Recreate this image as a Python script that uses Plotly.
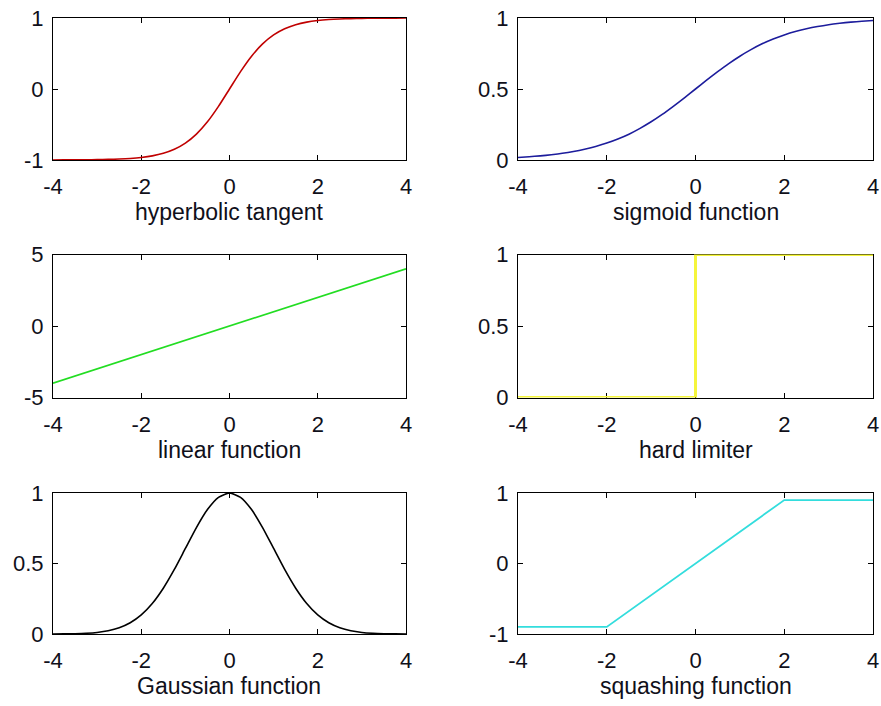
import plotly.graph_objects as go

# ---- data ----
x_grid = [-4, -3.75, -3.5, -3.25, -3, -2.75, -2.5, -2.25, -2, -1.75, -1.5, -1.25, -1, -0.75, -0.5, -0.25,
          0, 0.25, 0.5, 0.75, 1, 1.25, 1.5, 1.75, 2, 2.25, 2.5, 2.75, 3, 3.25, 3.5, 3.75, 4]

tanh_y = [-0.9993, -0.9989, -0.9982, -0.9970, -0.9951, -0.9918, -0.9866, -0.9780, -0.9640, -0.9414,
          -0.9051, -0.8483, -0.7616, -0.6351, -0.4621, -0.2449, 0.0, 0.2449, 0.4621, 0.6351, 0.7616,
          0.8483, 0.9051, 0.9414, 0.9640, 0.9780, 0.9866, 0.9918, 0.9951, 0.9970, 0.9982, 0.9989, 0.9993]

sigmoid_y = [0.018, 0.023, 0.029, 0.037, 0.047, 0.060, 0.076, 0.095, 0.119, 0.148, 0.182, 0.223, 0.269,
             0.321, 0.378, 0.438, 0.500, 0.562, 0.622, 0.679, 0.731, 0.777, 0.818, 0.852, 0.881, 0.905,
             0.924, 0.940, 0.953, 0.963, 0.971, 0.977, 0.982]

gauss_y = [0.0003, 0.0009, 0.0022, 0.0051, 0.0111, 0.0228, 0.0439, 0.0796, 0.1353, 0.2163, 0.3247,
           0.4578, 0.6065, 0.7548, 0.8825, 0.9692, 1.0, 0.9692, 0.8825, 0.7548, 0.6065, 0.4578, 0.3247,
           0.2163, 0.1353, 0.0796, 0.0439, 0.0228, 0.0111, 0.0051, 0.0022, 0.0009, 0.0003]

linear_x = [-4, 4]
linear_y = [-4, 4]

hard_x = [-4, 0, 0, 4]
hard_y = [0, 0, 1, 1]

squash_x = [-4, -2, 2, 4]
squash_y = [-0.9, -0.9, 0.9, 0.9]

titles = ["hyperbolic tangent", "sigmoid function", "linear function",
          "hard limiter", "Gaussian function", "squashing function"]

x_ticks = [-4, -2, 0, 2, 4]
y_ticks_list = [[-1, 0, 1], [0, 0.5, 1], [-5, 0, 5], [0, 0.5, 1], [0, 0.5, 1], [-1, 0, 1]]
y_ranges = [[-1, 1], [0, 1], [-5, 5], [0, 1], [0, 1], [-1, 1]]

series = [
    (x_grid, tanh_y, "#c00000", 1.6),
    (x_grid, sigmoid_y, "#1c1c9c", 1.6),
    (linear_x, linear_y, "#22dd22", 1.6),
    (hard_x, hard_y, "#f5f53c", 3.0),
    (x_grid, gauss_y, "#000000", 1.6),
    (squash_x, squash_y, "#33dddd", 1.8),
]

# ---- layout geometry ----
W, H = 881, 706
col_px = [(53, 406), (518, 873)]
row_px = [(18, 160), (254.5, 397.5), (493, 634)]

TEXT = "#10101a"
FONT = "Liberation Sans, Arial, sans-serif"


def tick_text(v):
    return ("%g" % v).replace("\u2212", "-")


fig = go.Figure()
annotations = []
for i, (xs, ys, col, lw) in enumerate(series):
    r, c = divmod(i, 2)
    n = "" if i == 0 else str(i + 1)
    x0, x1 = col_px[c]
    yt, yb = row_px[r]
    fig.add_trace(go.Scatter(x=xs, y=ys, mode="lines",
                             line=dict(color=col, width=lw, shape="spline" if xs is x_grid else "linear",
                                       smoothing=0.6),
                             xaxis="x" + n, yaxis="y" + n, showlegend=False, hoverinfo="skip"))
    axis_common = dict(showline=True, linecolor="black", linewidth=1, mirror="allticks",
                       ticks="inside", ticklen=5, tickcolor="black", tickwidth=1,
                       showgrid=False, zeroline=False, layer="below traces", automargin=False,
                       tickfont=dict(family=FONT, size=22, color=TEXT))
    fig.update_layout(**{
        "xaxis" + n: dict(domain=[x0 / W, x1 / W], range=[-4, 4], anchor="y" + n,
                          tickmode="array", tickvals=x_ticks, ticklabelstandoff=7,
                          ticktext=[tick_text(v) for v in x_ticks], **axis_common),
        "yaxis" + n: dict(domain=[1 - yb / H, 1 - yt / H], range=y_ranges[i], anchor="x" + n,
                          tickmode="array", tickvals=y_ticks_list[i], ticklabelstandoff=4,
                          ticktext=[tick_text(v) for v in y_ticks_list[i]], **axis_common),
    })
    annotations.append(dict(text=titles[i], x=(x0 + x1) / 2 / W, y=1 - (yb + 52) / H,
                            xref="paper", yref="paper", xanchor="center", yanchor="middle",
                            showarrow=False, font=dict(family=FONT, size=23, color=TEXT)))

fig.update_layout(width=W, height=H, margin=dict(l=0, r=0, t=0, b=0),
                  paper_bgcolor="white", plot_bgcolor="white", annotations=annotations)

fig.write_html("out.html")
